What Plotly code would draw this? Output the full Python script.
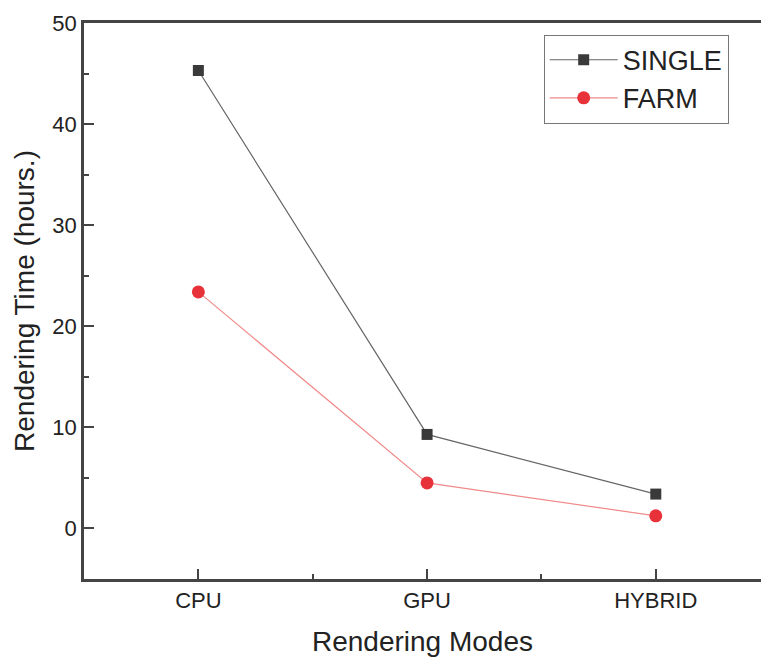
import plotly.graph_objects as go

modes = ["CPU", "GPU", "HYBRID"]
single = [45.3, 9.3, 3.4]
farm = [23.4, 4.5, 1.25]
y_ticks = [0, 10, 20, 30, 40, 50]

xpos = list(range(len(modes)))
FONT = "Liberation Sans, Arial, sans-serif"

fig = go.Figure()
fig.add_trace(go.Scatter(
    x=xpos, y=single, name="SINGLE", mode="lines+markers",
    line=dict(color="#666666", width=1.2),
    marker=dict(symbol="square", size=11, color="#3a3a3a"),
))
fig.add_trace(go.Scatter(
    x=xpos, y=farm, name="FARM", mode="lines+markers",
    line=dict(color="#f08a8a", width=1.2),
    marker=dict(symbol="circle", size=13, color="#e8323a"),
))

fig.update_layout(
    width=761, height=657,
    margin=dict(l=84, r=0, t=23, b=78),
    paper_bgcolor="white", plot_bgcolor="white",
    font=dict(family=FONT, color="#222222"),
    showlegend=True,
    legend=dict(
        x=0.679, y=0.979, xanchor="left", yanchor="top",
        bordercolor="#777777", borderwidth=1,
        font=dict(size=27, family=FONT, color="#222222"),
        itemwidth=68, tracegroupgap=0, bgcolor="white",
    ),
)
fig.update_xaxes(
    range=[-0.5, 2.46],
    tickmode="array", tickvals=xpos, ticktext=modes,
    tickfont=dict(size=22, family=FONT, color="#222222"),
    ticks="inside", ticklen=10, tickwidth=2, tickcolor="#444444",
    minor=dict(tickvals=[0.5, 1.5], ticks="inside", ticklen=5, tickwidth=2, tickcolor="#444444"),
    showline=True, linecolor="#444444", linewidth=2.5, mirror=True,
    showgrid=False, zeroline=False,
    title=dict(text="Rendering Modes", font=dict(size=28, family=FONT, color="#222222"), standoff=22),
)
fig.update_yaxes(
    range=[-5, 50],
    tickmode="array", tickvals=y_ticks,
    tickfont=dict(size=22, family=FONT, color="#222222"),
    ticks="inside", ticklen=10, tickwidth=2, tickcolor="#444444",
    minor=dict(dtick=5, tick0=0, ticks="inside", ticklen=5, tickwidth=2, tickcolor="#444444"),
    showline=True, linecolor="#444444", linewidth=2.5,
    showgrid=False, zeroline=False,
    title=dict(text="Rendering Time (hours.)", font=dict(size=28, family=FONT, color="#222222"), standoff=10),
)

fig.write_html("out.html", config={"displayModeBar": False},
               post_script="document.body.style.margin='0';")
